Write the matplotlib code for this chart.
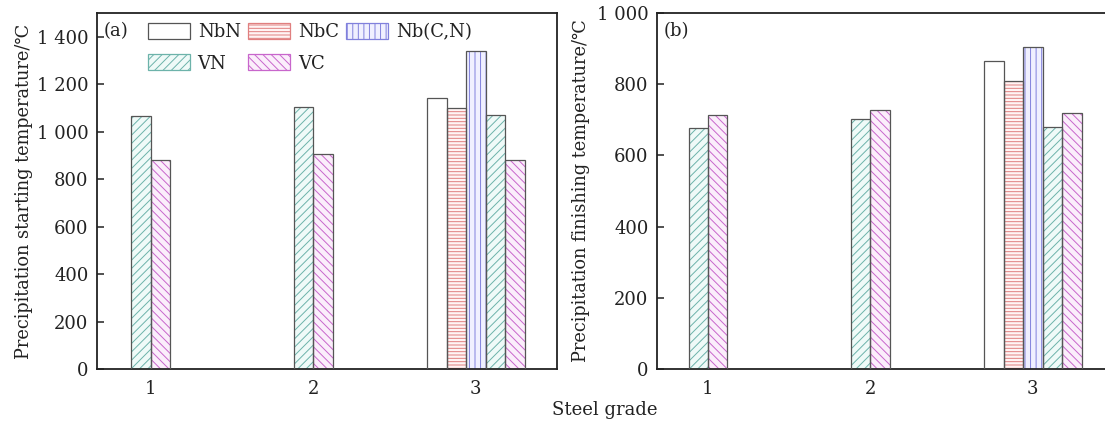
import matplotlib
matplotlib.use("Agg")
import matplotlib.pyplot as plt
import numpy as np
from matplotlib.patches import Patch

plt.rcParams['font.family'] = ['DejaVu Serif', 'DejaVu Sans']
plt.rcParams['hatch.linewidth'] = 0.7

grades = [1, 2, 3]
tick_labels = ['1', '2', '3']
series = ['NbN', 'NbC', 'Nb(C,N)', 'VN', 'VC']

# Precipitation starting temperature (a)
start_NbN = [np.nan, np.nan, 1142]
start_NbC = [np.nan, np.nan, 1098]
start_NbCN = [np.nan, np.nan, 1341]
start_VN = [1064, 1106, 1071]
start_VC = [882, 904, 882]

# Precipitation finishing temperature (b)
finish_NbN = [np.nan, np.nan, 866]
finish_NbC = [np.nan, np.nan, 810]
finish_NbCN = [np.nan, np.nan, 904]
finish_VN = [678, 702, 681]
finish_VC = [714, 728, 720]

styles = {
    'NbN': dict(face='white', hatch=None, hcol='#555555'),
    'NbC': dict(face='#fff4f4', hatch='-----', hcol='#e07f7f'),
    'Nb(C,N)': dict(face='#f0f0ff', hatch='|||', hcol='#8080dc'),
    'VN': dict(face='#effaf8', hatch='////', hcol='#6db3aa'),
    'VC': dict(face='#fbeefb', hatch='\\\\\\\\', hcol='#c866cc'),
}
edge = '#555555'
W = 0.12

fig = plt.figure(figsize=(11.05, 4.21), dpi=100)
axA = fig.add_axes([97/1105, 1-369/421, 460/1105, 356/421])
axB = fig.add_axes([657/1105, 1-369/421, 457/1105, 356/421])


def draw(ax, data, xlim, ylim, yticks, yticklabels, ylabel, tag, lpad):
    for name, vals in data.items():
        st = styles[name]
        xs, hs = [], []
        for g, v in zip(grades, vals):
            if np.isnan(v):
                continue
            if g == 3:
                off = (series.index(name) - 2) * W
            else:
                off = -W/2 if name == 'VN' else W/2
            xs.append(g + off)
            hs.append(v)
        ax.bar(xs, hs, width=W, color=st['face'], hatch=st['hatch'],
               edgecolor=st['hcol'], linewidth=0, zorder=2)
        ax.bar(xs, hs, width=W, fill=False, edgecolor=edge,
               linewidth=0.9, zorder=3)
    ax.set_xlim(*xlim)
    ax.set_ylim(*ylim)
    ax.set_xticks(grades)
    ax.set_xticklabels(tick_labels)
    ax.set_yticks(yticks)
    ax.set_yticklabels(yticklabels)
    ax.tick_params(direction='in', length=5, width=1.1, labelsize=13,
                   colors='#222222', pad=6)
    ax.tick_params(axis='x', pad=8)
    for s in ax.spines.values():
        s.set_linewidth(1.3)
        s.set_color('#222222')
    ax.set_ylabel(ylabel, fontsize=12.8, color='#222222', labelpad=lpad)
    ax.text(0.015, 0.975, tag, transform=ax.transAxes, fontsize=13,
            va='top', ha='left', color='#222222')


dA = {'NbN': start_NbN, 'NbC': start_NbC, 'Nb(C,N)': start_NbCN,
      'VN': start_VN, 'VC': start_VC}
dB = {'NbN': finish_NbN, 'NbC': finish_NbC, 'Nb(C,N)': finish_NbCN,
      'VN': finish_VN, 'VC': finish_VC}

draw(axA, dA, (0.668, 3.5), (0, 1500), [0, 200, 400, 600, 800, 1000, 1200, 1400],
     ['0', '200', '400', '600', '800', '1 000', '1 200', '1 400'],
     'Precipitation starting temperature/\u2103', '(a)', 3)
draw(axB, dB, (0.686, 3.5), (0, 1000), [0, 200, 400, 600, 800, 1000],
     ['0', '200', '400', '600', '800', '1 000'],
     'Precipitation finishing temperature/\u2103', '(b)', 5)

order = ['NbN', 'VN', 'NbC', 'VC', 'Nb(C,N)']
leg_handles = []
for n in order:
    st = styles[n]
    leg_handles.append(Patch(facecolor=st['face'], hatch=st['hatch'],
                             edgecolor=st['hcol'] if st['hatch'] else edge,
                             linewidth=0.9))
leg = axA.legend(leg_handles, order, ncol=3, loc='upper left',
                 bbox_to_anchor=(0.103, 0.982), frameon=False, fontsize=13,
                 handlelength=2.3, handleheight=1.0, columnspacing=0.42,
                 handletextpad=0.45, labelspacing=0.72, borderaxespad=0.0,
                 borderpad=0.2)
for t in leg.get_texts():
    t.set_color('#222222')

fig.text(605/1105, 1-410/421, 'Steel grade', ha='center', va='center',
         fontsize=13, color='#222222')

fig.savefig('out.png', dpi=100)
